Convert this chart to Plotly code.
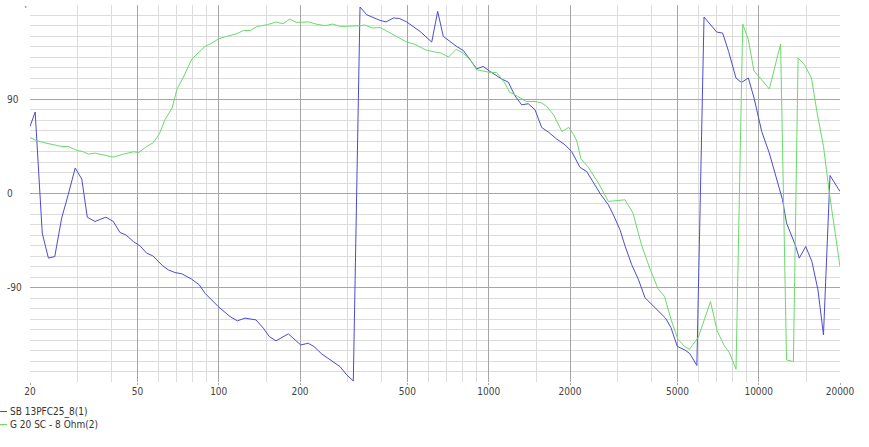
import plotly.graph_objects as go

# ---------------- data ----------------
blue_name = "SB 13PFC25_8(1)"
green_name = "G 20 SC - 8 Ohm(2)"

blue_freq = [20, 20.9, 22.2, 23.4, 24.7, 26.2, 27.7, 29.4, 31.1, 32.6, 34.8, 38.2, 40.7, 43.1, 45.3,
             48.3, 51.1, 54.1, 57.0, 62.0, 65.0, 68.9, 73.0, 79.4, 84.7, 88.9, 99.6, 110.1, 117.2,
             125.1, 137.4, 146.3, 153.9, 163.0, 181.0, 201.2, 214.7, 225.5, 240.7, 262.1, 281.3,
             297.9, 315.1, 333.7, 353.2, 395.8, 416.5, 443.2, 466.5, 496.9, 556.5, 615, 647.2,
             678.8, 760.9, 805, 852.6, 902.6, 954.9, 1010.6, 1117, 1181, 1251, 1324, 1401, 1484,
             1571, 1662, 1785, 1917, 2029, 2178, 2306, 2440, 2600, 2774, 2894, 3064, 3197, 3385,
             3581, 3791, 4014, 4309, 4515, 4730, 4994, 5333, 5560, 5900, 6272, 6985, 7348, 7734,
             8237, 8630, 9153, 9612, 10256, 10944, 11608, 12250, 12680, 13650, 14130, 14930,
             15740, 16570, 17370, 18370, 20000]
blue_phase = [64, 77.8, -37.8, -61.7, -60.2, -23.5, -1.2, 24.3, 13.8, -22.6, -26.7, -22.6, -26.7,
              -37.3, -39.5, -45.9, -50, -57, -59.5, -69, -72.9, -75.5, -76.7, -81.8, -87.2, -95.2,
              -108, -117.5, -121.6, -119, -120.7, -128.6, -136.6, -140.7, -134, -144.6, -143,
              -146.2, -153.2, -159.5, -165.3, -173.2, -179, 178.1, 170.7, 165.3, 163.8, 167.6,
              167.2, 163.8, 154.8, 144.6, 173.9, 150, 140.4, 136.6, 127.7, 119.1, 121.3, 116.6,
              109.3, 106.4, 93.3, 84.7, 85.7, 80, 63, 58.7, 52, 46.5, 40, 25, 21, 10, -1, -10.8,
              -20.3, -34.7, -50, -68, -81.8, -99.5, -105.7, -113.7, -119, -128, -146, -149.5,
              -153, -164.2, 168.5, 154.2, 153.2, 135.7, 110.3, 106, 110.3, 91.1, 59.2, 38.6, 16.2,
              -6, -28.3, -49, -61.7, -50.6, -65, -92, -135, 17.2, 1.9]

green_freq = [20, 21.2, 22.4, 23.4, 24.1, 26.2, 27.7, 29.9, 31.3, 32.9, 34.8, 37.4, 40.7, 44.4,
              48.3, 50.6, 54.1, 57.2, 60.3, 63.2, 67.2, 70.1, 74.0, 79.5, 88.9, 94.4, 100.1,
              106.7, 116.7, 123.6, 131, 138.8, 151.4, 163, 173, 183.5, 193.5, 216, 229, 248, 264,
              283, 309, 334, 347, 372, 396, 429, 453, 497, 533, 585, 631, 667, 710, 757, 805, 853,
              903, 1011, 1069, 1147, 1196, 1230, 1377, 1484, 1571, 1640, 1739, 1866, 1980, 2065,
              2120, 2196, 2326, 2550, 2774, 2978, 3197, 3423, 3679, 3947, 4235, 4480, 4740, 5016,
              5333, 5540, 5970, 6629, 7013, 7423, 7770, 8240, 8725, 9153, 9600, 10256, 10944,
              12050, 12680, 13440, 13990, 14770, 15680, 16460, 17370, 18270, 20000]
green_phase = [53.5, 50.3, 48.7, 47.5, 47.2, 44.9, 44.9, 41.1, 40.1, 37.6, 38.6, 37, 34.8, 37.6,
               39.8, 39.2, 44.9, 48.5, 57, 70.4, 81.6, 100, 111.2, 128.4, 140.4, 143.7, 147.8,
               150, 152.6, 155.7, 155.7, 159.5, 161.2, 163.8, 162.1, 166.6, 163.4, 163.8, 161.8,
               160.2, 161.8, 159.5, 159.5, 160.2, 160.9, 158, 158.6, 153.8, 150, 144.6, 142.5,
               137, 135.1, 134.1, 130.3, 137.6, 134.1, 127.7, 118.2, 115.6, 115.6, 105.5, 96.5,
               95.3, 87.9, 87.9, 86.4, 83.1, 75.2, 59.2, 63.1, 56.1, 50, 33, 25.8, 9.9, -7.6,
               -6.7, -6, -18.7, -49, -71.3, -90.8, -98.4, -120.7, -139, -146.5, -148.7, -137.5,
               -103.2, -131, -144.5, -151.5, -167.8, 161.8, 146.8, 117, 108.6, 99.7, 142.7,
               -158.9, -160.5, 129.4, 123, 110.3, 76.8, 44.9, 0.4, -69.7]

x_major_ticks = [20, 50, 100, 200, 500, 1000, 2000, 5000, 10000, 20000]
x_major_labels = ["20", "50", "100", "200", "500", "1000", "2000", "5000", "10000", "20000"]
x_minor_ticks = [30, 40, 60, 70, 80, 90, 150, 300, 400, 600, 700, 800, 900, 1500,
                 3000, 4000, 6000, 7000, 8000, 9000, 15000]
y_major_ticks = [-90, 0, 90, 180]
y_label_vals = [-90, 0, 90]
y_labels = ["-90", "0", "90"]
y_minor_ticks = [v for v in range(-170, 180, 10) if v % 90 != 0]

# ---------------- style ----------------
FONT = "DejaVu Sans Condensed, Liberation Sans Narrow, sans-serif"
FS = 10
BLUE = "#4c4cd0"
GREEN = "#6ada6a"
MAJOR = "#a6a6a6"
MINOR = "#dcdcdc"
TXT = "#444444"

W, H = 869, 447
L, R, T, B = 30, 29, 5, 65
pw, ph = W - L - R, H - T - B


def px(xpix):
    return (xpix - L) / pw


def py(ypix):
    return (H - B - ypix) / ph


fig = go.Figure()
fig.add_trace(go.Scatter(x=blue_freq, y=blue_phase, mode="lines", name=blue_name,
                         line=dict(color=BLUE, width=1), showlegend=False))
fig.add_trace(go.Scatter(x=green_freq, y=green_phase, mode="lines", name=green_name,
                         line=dict(color=GREEN, width=1), showlegend=False))

fig.update_xaxes(type="log", range=[1.30103, 4.30103],
                 tickmode="array", tickvals=x_major_ticks, ticktext=x_major_labels,
                 showgrid=True, gridcolor=MAJOR, gridwidth=1,
                 ticks="outside", ticklen=2, tickcolor=MAJOR, ticklabelstandoff=-2,
                 tickfont=dict(family=FONT, size=FS, color=TXT),
                 showline=False, zeroline=False,
                 minor=dict(tickmode="array", tickvals=x_minor_ticks, showgrid=True,
                            gridcolor=MINOR, gridwidth=1, ticks=""))
fig.update_yaxes(range=[-180, 180], tickmode="array", tickvals=y_major_ticks,
                 showticklabels=False, showgrid=True, gridcolor=MAJOR, gridwidth=1,
                 zeroline=False, showline=False, ticks="",
                 minor=dict(tickmode="array", tickvals=y_minor_ticks, showgrid=True,
                            gridcolor=MINOR, gridwidth=1, ticks=""))

annotations = []
for v, t in zip(y_label_vals, y_labels):
    annotations.append(dict(x=px(7), y=v, xref="paper", yref="y", text=t, showarrow=False,
                            xanchor="left", yanchor="middle", xshift=-2,
                            font=dict(family=FONT, size=FS, color=TXT)))
annotations.append(dict(x=px(25), y=py(7), xref="paper", yref="paper", text="•",
                        showarrow=False, xanchor="center", yanchor="middle",
                        font=dict(family=FONT, size=6, color="#888888")))

shapes = []
for name, col, ypix in [(blue_name, BLUE, 411.5), (green_name, GREEN, 424.5)]:
    shapes.append(dict(type="line", xref="paper", yref="paper", x0=px(0), x1=px(7),
                       y0=py(ypix), y1=py(ypix), line=dict(color=col, width=1)))
    annotations.append(dict(x=px(10), y=py(ypix), xref="paper", yref="paper", text=name,
                            showarrow=False, xanchor="left", yanchor="middle", xshift=-2,
                            font=dict(family=FONT, size=FS, color="#333333")))

fig.update_layout(width=W, height=H, margin=dict(l=L, r=R, t=T, b=B),
                  paper_bgcolor="white", plot_bgcolor="white", hovermode=False,
                  annotations=annotations, shapes=shapes, showlegend=False)

fig.write_html("out.html", config={"displayModeBar": False, "staticPlot": True},
               post_script="document.body.style.margin='0';")
